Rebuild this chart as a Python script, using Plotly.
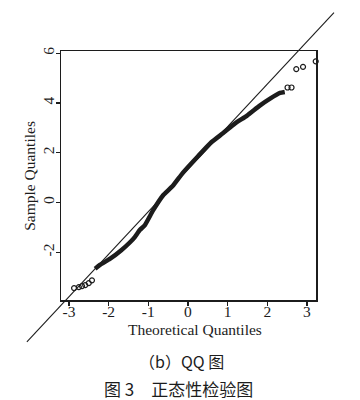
import plotly.graph_objects as go

# ---- data ----
theo_body = [-2.34, -2.22, -1.96, -1.68, -1.46, -1.34, -1.21, -1.09, -0.88, -0.63,
             -0.38, -0.13, 0.26, 0.59, 0.88, 1.18, 1.49, 1.81, 2.07, 2.32, 2.44]
samp_body = [-2.66, -2.51, -2.26, -1.92, -1.60, -1.39, -1.10, -0.92, -0.32, 0.28,
             0.67, 1.19, 1.87, 2.42, 2.78, 3.17, 3.49, 3.89, 4.17, 4.40, 4.44]
theo_tail = [-3.21, -2.87, -2.75, -2.67, -2.59, -2.50, -2.42, 2.51, 2.61, 2.73, 2.90, 3.22]
samp_tail = [-3.50, -3.44, -3.40, -3.36, -3.32, -3.24, -3.13, 4.62, 4.62, 5.36, 5.45, 5.67]

qqline_intercept = 1.34
qqline_slope = 1.71
qqline_x_extent = [-4.06, 3.68]

x_tickvals = [-3, -2, -1, 0, 1, 2, 3]
x_ticktext = ["-3", "-2", "-1", "0", "1", "2", "3"]
y_tickvals = [-2, 0, 2, 4, 6]
y_ticktext = ["-2", "0", "2", "4", "6"]

x_title = "Theoretical Quantiles"
y_title = "Sample Quantiles"
caption_b = "（b）QQ 图"
caption_fig = "图 3\u3000正态性检验图"

# ---- layout geometry ----
W, H = 360, 400
box_l, box_r, box_t, box_b = 61, 316, 47, 299
x_range = [-3.20, 3.227]
y_range = [-3.93, 6.07]

ppu_x = (box_r - box_l) / (x_range[1] - x_range[0])
ppu_y = (box_b - box_t) / (y_range[1] - y_range[0])
x2_range = [x_range[0] - box_l / ppu_x, x_range[0] + (W - box_l) / ppu_x]
y2_range = [y_range[0] - (H - box_b) / ppu_y, y_range[1] + box_t / ppu_y]

ink = "#1c1c1c"
serif = "Liberation Serif, Times New Roman, serif"
cjk = "Noto Sans CJK SC"

fig = go.Figure()

fig.add_trace(go.Scatter(
    x=theo_body, y=samp_body, mode="lines",
    line=dict(color=ink, width=4.5, shape="spline", smoothing=0.4),
    xaxis="x", yaxis="y", showlegend=False, hoverinfo="skip"))

fig.add_trace(go.Scatter(
    x=theo_tail, y=samp_tail, mode="markers",
    marker=dict(symbol="circle-open", size=5, color=ink, line=dict(width=1.2, color=ink)),
    cliponaxis=False, xaxis="x", yaxis="y", showlegend=False, hoverinfo="skip"))

line_y = [qqline_intercept + qqline_slope * v for v in qqline_x_extent]
fig.add_trace(go.Scatter(
    x=qqline_x_extent, y=line_y, mode="lines",
    line=dict(color=ink, width=1.1),
    xaxis="x2", yaxis="y2", showlegend=False, hoverinfo="skip"))

fig.update_layout(
    width=W, height=H,
    margin=dict(l=0, r=0, t=0, b=0),
    paper_bgcolor="white", plot_bgcolor="rgba(0,0,0,0)",
    font=dict(family=serif, color=ink, size=15),
    xaxis=dict(domain=[box_l / W, box_r / W], range=x_range, anchor="y",
               showgrid=False, zeroline=False, showline=True, mirror=True,
               linecolor=ink, linewidth=1.5,
               ticks="outside", ticklen=4, tickwidth=1.2, tickcolor=ink,
               tickvals=x_tickvals, ticktext=x_ticktext, ticklabelstandoff=-7,
               tickfont=dict(family=serif, size=15.5, color=ink)),
    yaxis=dict(domain=[1 - box_b / H, 1 - box_t / H], range=y_range, anchor="x",
               showgrid=False, zeroline=False, showline=True, mirror=True,
               linecolor=ink, linewidth=1.5,
               ticks="outside", ticklen=4, tickwidth=1.2, tickcolor=ink,
               tickvals=y_tickvals, ticktext=y_ticktext, tickangle=-90,
               ticklabelstandoff=-5,
               tickfont=dict(family=serif, size=15.5, color=ink)),
    xaxis2=dict(domain=[0, 1], range=x2_range, anchor="y2", visible=False, fixedrange=True),
    yaxis2=dict(domain=[0, 1], range=y2_range, anchor="x2", visible=False, fixedrange=True),
    annotations=[
        dict(text=x_title, xref="paper", yref="paper", x=195 / W, y=1 - 329 / H,
             showarrow=False, font=dict(family=serif, size=15.5, color=ink),
             xanchor="center", yanchor="middle"),
        dict(text=y_title, xref="paper", yref="paper", x=30 / W, y=1 - 173 / H,
             showarrow=False, textangle=-90, font=dict(family=serif, size=15.5, color=ink),
             xanchor="center", yanchor="middle"),
        dict(text=caption_b, xref="paper", yref="paper", x=181 / W, y=1 - 361 / H,
             showarrow=False, font=dict(family=cjk, size=16, color=ink),
             xanchor="center", yanchor="middle"),
        dict(text=caption_fig, xref="paper", yref="paper", x=178 / W, y=1 - 388 / H,
             showarrow=False, font=dict(family=cjk, size=17, color=ink),
             xanchor="center", yanchor="middle"),
    ],
)

fig.write_html(
    "out.html",
    config={"displayModeBar": False, "staticPlot": True},
    post_script="document.body.style.margin='0';document.body.style.padding='0';",
)
